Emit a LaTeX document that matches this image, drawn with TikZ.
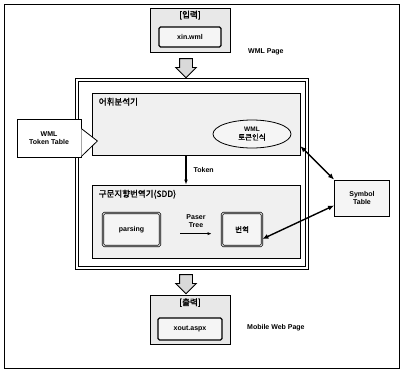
\documentclass[tikz,border=0pt]{standalone}
\usepackage{fontspec}
\setmainfont{Liberation Sans}
\newfontfamily\kor{Noto Sans CJK KR}[AutoFakeBold=1.5]
\usetikzlibrary{arrows.meta, positioning, calc, shapes.geometric, shapes.arrows}
\tikzset{
  gbox/.style={rectangle, draw=black, thick, fill=gray!18, inner sep=0pt},
  fbox/.style={rectangle, draw=black, line width=1.2pt, fill=gray!8, rounded corners=1.5pt,
               inner sep=0pt, font=\fontsize{7}{8}\selectfont\bfseries},
  stage/.style={rectangle, draw=black, thick, fill=gray!12, inner sep=0pt},
  ttl/.style={font=\kor\fontsize{8.5}{9}\selectfont\bfseries, inner sep=1pt},
  lbl/.style={font=\fontsize{7}{8}\selectfont\bfseries, align=center, inner sep=1pt},
  barr/.style={single arrow, draw=black, thick, fill=gray!30, shape border rotate=270,
               inner sep=6pt, single arrow head extend=4pt, minimum height=18pt},
  darr/.style={{Latex[length=6pt,width=5pt]}-{Latex[length=6pt,width=5pt]}, line width=1.4pt},
}
\begin{document}
\begin{tikzpicture}[x=1pt, y=-1pt]
  \useasboundingbox (0,0) rectangle (401,372);
  \draw[thick] (4,4) rectangle (399,368);

  % input file
  \node[gbox, minimum width=80pt, minimum height=44pt] (inbox) at (190,30) {};
  \node[ttl, below=2pt of inbox.north] (inlbl) {[입력]};
  \node[fbox, minimum width=62pt, minimum height=20pt] (xin) at (190,37) {xin.wml};
  \node[lbl, anchor=west] (wmlpage) at (247,52) {WML Page};
  \node[barr] (down1) at (186,65) {};

  % translator frame
  \node[draw=black, thick, double, double distance=1.6pt, minimum width=230pt,
        minimum height=188pt] (main) at (192,174) {};

  \node[stage, minimum width=208pt, minimum height=62pt] (lex) at (196,124) {};
  \node[ttl, anchor=north west] (lexttl) at ($(lex.north west)+(6,4)$) {어휘분석기};
  \node[ellipse, draw=black, thick, fill=gray!8, minimum width=78pt, minimum height=28pt,
        inner sep=0pt, align=center, font=\kor\fontsize{7.5}{8}\selectfont\bfseries]
    (tokrec) at (252,134) {\fontspec{Liberation Sans}\fontsize{6.5}{7.5}\selectfont WML\\토큰인식};

  \node[stage, minimum width=208pt, minimum height=73pt] (sdd) at (196,221.5) {};
  \node[ttl, anchor=north west] (sddttl) at ($(sdd.north west)+(6,4)$) {구문지향번역기(SDD)};
  \node[fbox, double, double distance=0.8pt, line width=0.7pt, minimum width=57pt,
        minimum height=33pt] (parsing) at (131.5,229.5) {parsing};
  \node[fbox, double, double distance=0.8pt, line width=0.7pt, minimum width=40pt,
        minimum height=33pt, font=\kor\fontsize{7.5}{8}\selectfont\bfseries]
    (trans) at (242,229.5) {번역};
  \node[lbl] (ptree) at (196,221) {Paser\\Tree};

  \draw[-{Latex[length=5pt]}, line width=1.3pt] (lex.south -| down1.center) -- (sdd.north -| down1.center)
    node[lbl, midway, right=6pt] (tok) {Token};
  \draw[-{Latex[length=4pt]}, thick] ($(ptree.south west)+(-5,5)$) -- ($(ptree.south east)+(5,5)$);

  % token table on the left
  \node[rectangle, draw=black, thick, fill=white, minimum width=64pt, minimum height=38pt,
        lbl] (ttab) at (49,138) {WML\\Token Table};
  \draw[thick, fill=white] ($(ttab.north east)+(0,10)$) -- ($(ttab.east)+(16,3)$)
    -- ($(ttab.south east)+(0,-1)$);

  % symbol table
  \node[rectangle, draw=black, thick, fill=gray!8, minimum width=55pt, minimum height=36pt,
        lbl] (sym) at (362,198) {Symbol\\Table};
  \draw[darr] (lex.-12) -- (sym.north west);
  \draw[darr] (trans.-25) -- (sym.-165);

  % output file
  \node[barr] (down2) at (186,281) {};
  \node[gbox, minimum width=80pt, minimum height=49pt] (outbox) at (190,320) {};
  \node[ttl, below=2pt of outbox.north] (outlbl) {[출력]};
  \node[fbox, minimum width=64pt, minimum height=22pt] (xout) at (190,329) {xout.aspx};
  \node[lbl, anchor=west] (mobpage) at (246,328) {Mobile Web Page};
\end{tikzpicture}
\end{document}
